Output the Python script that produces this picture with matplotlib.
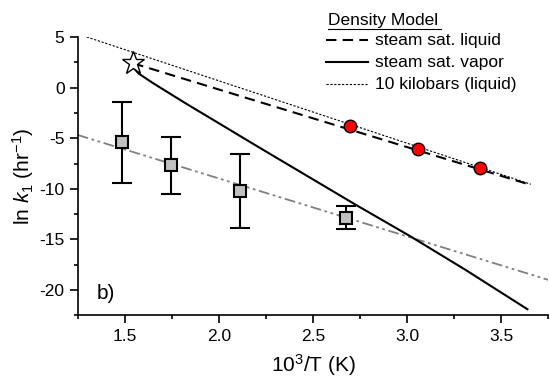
import numpy as np
import matplotlib.pyplot as plt
from matplotlib.ticker import MultipleLocator

plt.rcParams['font.family'] = ['Liberation Sans', 'DejaVu Sans']
plt.rcParams['axes.unicode_minus'] = False
plt.rcParams['mathtext.fontset'] = 'custom'
plt.rcParams['mathtext.rm'] = 'Liberation Sans'
plt.rcParams['mathtext.it'] = 'Liberation Sans:italic'

# experimental points (gray squares) with error bars
xExp = [1.483, 1.743, 2.112, 2.675]
yExp = [-5.4, -7.65, -10.2, -12.86]
yExpTop = [-1.45, -4.85, -6.6, -11.67]
yExpBot = [-9.4, -10.48, -13.9, -13.97]

# red points
xRed = [2.698, 3.055, 3.385]
yRed = [-3.79, -6.04, -7.97]

# critical point (star)
xStar = [1.545]
yStar = [2.4]

# density model curves
xLiq = [1.545, 3.657]
yLiq = [2.4, -9.62]
xKbar = [1.298, 3.657]
yKbar = [5.0, -9.55]
xVap = [1.552, 1.572, 1.652, 1.829, 2.005, 2.164, 2.323, 2.729, 3.014, 3.311, 3.639]
yVap = [1.85, 1.41, 0.42, -1.62, -3.58, -5.36, -7.12, -11.6, -14.66, -18.02, -21.9]

# fit through experimental points
xFit = [1.25, 3.75]
yFit = [-4.68, -19.0]

fig = plt.figure(figsize=(5.5, 3.89), dpi=100)
ax = fig.add_axes([0.1413, 0.1894, 0.8557, 0.7155])

ax.plot(xFit, yFit, color='#808080', lw=1.3, dashes=(6, 2, 1.5, 2, 1.5, 2))
ax.plot(xKbar, yKbar, color='black', lw=0.8, dashes=(2, 1.5))
ax.plot(xLiq, yLiq, color='black', lw=1.5, dashes=(5, 3))
ax.plot(xVap, yVap, color='black', lw=1.5)

errLo = np.array(yExp) - np.array(yExpBot)
errHi = np.array(yExpTop) - np.array(yExp)
ax.errorbar(xExp, yExp, yerr=[errLo, errHi], fmt='s', color='black', ecolor='black',
            elinewidth=1.5, capsize=7, capthick=1.5, markersize=9,
            markerfacecolor='#c0c0c0', markeredgecolor='black', markeredgewidth=1.5, zorder=5)
ax.plot(xRed, yRed, 'o', markersize=9, markerfacecolor='red', markeredgecolor='black',
        markeredgewidth=1, zorder=6)
ax.plot(xStar, yStar, '*', markersize=17, markerfacecolor='white', markeredgecolor='black',
        markeredgewidth=1, zorder=7)

ax.set_xlim(1.25, 3.75)
ax.set_ylim(-22.5, 5)
ax.xaxis.set_major_locator(MultipleLocator(0.5))
ax.xaxis.set_minor_locator(MultipleLocator(0.25))
ax.yaxis.set_major_locator(MultipleLocator(5))
ax.yaxis.set_minor_locator(MultipleLocator(2.5))
ax.set_xticks([1.5, 2.0, 2.5, 3.0, 3.5])
ax.set_xticklabels(['1.5', '2.0', '2.5', '3.0', '3.5'])
ax.spines['top'].set_visible(False)
ax.spines['right'].set_visible(False)
ax.spines['left'].set_linewidth(1.2)
ax.spines['bottom'].set_linewidth(1.2)
ax.tick_params(which='major', direction='out', length=5.5, width=1.2, labelsize=12.5, pad=4)
ax.tick_params(which='minor', direction='out', length=2.8, width=1.2)

ax.set_xlabel('10$^3$/T (K)', fontsize=15, labelpad=6)
ax.set_ylabel('ln $\\mathit{k}_1$ (hr$^{-1}$)', fontsize=15, labelpad=2)
ax.text(1.352, -20.3, 'b)', fontsize=15, va='center')

# legend drawn by hand
fig.text(328 / 550, 1 - 20 / 389, 'Density Model', fontsize=12.5, va='center', ha='left')
fig.add_artist(plt.Line2D([328 / 550, 441 / 550], [1 - 29 / 389, 1 - 29 / 389], color='black', lw=0.8))
legY = [40, 62, 84]
legTxt = ['steam sat. liquid', 'steam sat. vapor', '10 kilobars (liquid)']
legStyle = [dict(lw=1.5, dashes=(5, 3)), dict(lw=1.5), dict(lw=0.8, dashes=(2, 1.5))]
for yy, tt, st in zip(legY, legTxt, legStyle):
    yf = 1 - yy / 389
    fig.add_artist(plt.Line2D([326 / 550, 368 / 550], [yf, yf], color='black', **st))
    fig.text(375 / 550, yf, tt, fontsize=12.5, va='center', ha='left')

plt.savefig('out.png', dpi=100)
plt.close()
